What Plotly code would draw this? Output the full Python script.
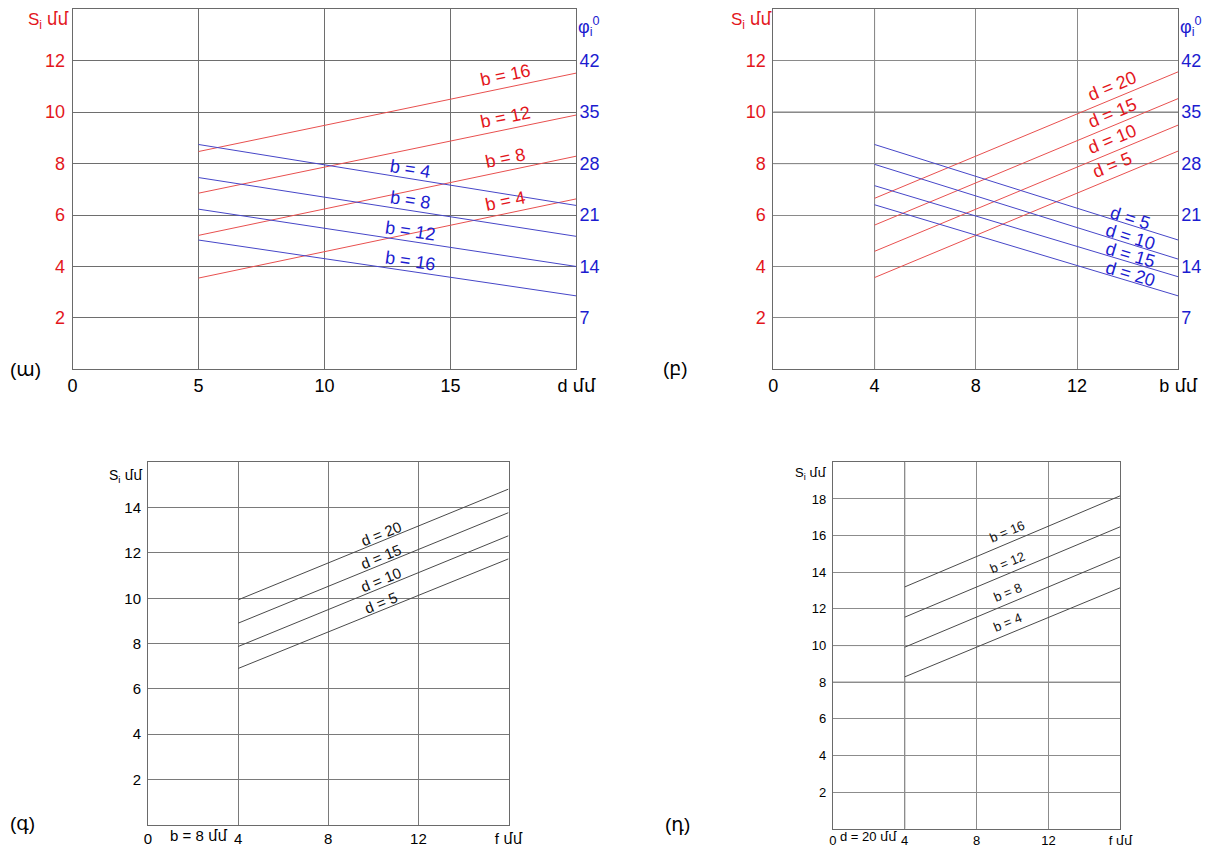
import math
import plotly.graph_objects as go

# ---------------- data ----------------
# Panel (ա): S_i (red, left axis) and φ_i (blue, right axis) vs d, for b values
a_d = [5, 20]
a_red_b = [16, 12, 8, 4]
a_red_S = [[8.47, 11.52], [6.85, 9.89], [5.21, 8.29], [3.55, 6.63]]
a_blue_b = [4, 8, 12, 16]
a_blue_phi = [[30.6, 22.3], [26.1, 18.1], [21.8, 14.0], [17.6, 10.0]]

# Panel (բ): S_i and φ_i vs b, for d values
b_b = [4, 16]
b_red_d = [20, 15, 10, 5]
b_red_S = [[6.65, 11.57], [5.61, 10.53], [4.59, 9.50], [3.57, 8.49]]
b_blue_d = [5, 10, 15, 20]
b_blue_phi = [[30.6, 17.6], [27.9, 15.0], [25.0, 12.6], [22.4, 10.0]]

# Panel (գ): S_i vs f, b = 8, for d values
c_f = [4, 16]
c_d = [20, 15, 10, 5]
c_S = [[9.93, 14.82], [8.90, 13.78], [7.87, 12.76], [6.90, 11.74]]

# Panel (դ): S_i vs f, d = 20, for b values
d_f = [4, 16]
d_b = [16, 12, 8, 4]
d_S = [[13.20, 18.18], [11.55, 16.49], [9.91, 14.85], [8.29, 13.16]]

# tick labels
a_xticks = [0, 5, 10, 15, 20]
a_xtext = ["0", "5", "10", "15", "d մմ"]
ab_yticks = [2, 4, 6, 8, 10, 12]
ab_phiticks = [7, 14, 21, 28, 35, 42]
b_xticks = [0, 4, 8, 12, 16]
b_xtext = ["0", "4", "8", "12", "b մմ"]
cd_xticks = [0, 4, 8, 12, 16]
cd_xtext = ["0", "4", "8", "12", "f մմ"]
c_yticks = [2, 4, 6, 8, 10, 12, 14]
d_yticks = [2, 4, 6, 8, 10, 12, 14, 16, 18]

# ---------------- styling / layout helpers ----------------
W, H = 1226, 848
FONT = "Liberation Sans, Arial, DejaVu Sans, sans-serif"
RED_T, RED_L = "#e3161c", "#e8504f"
BLUE_T, BLUE_L = "#1c1cd0", "#4646c8"
GRID = {"a": "#6e6e6e", "b": "#8a8a8a", "c": "#7a7a7a", "d": "#8c8c8c"}


def PX(px):
    return px / W


def PY(py):
    return 1 - py / H


# panel pixel boxes: left, right, top, bottom
boxes = {
    "a": (69, 583.3, 9.3, 370.7),
    "b": (784.3, 1197.7, 9.3, 370.7),
    "c": (146, 514, 464, 827.7),
    "d": (845, 1138.7, 464, 831.7),
}
ranges = {"a": ([0, 20], [0, 14]), "b": ([0, 16], [0, 14]),
          "c": ([0, 16], [0, 16]), "d": ([0, 16], [0, 20])}

fig = go.Figure()

# axis names per panel
ax = {"a": ("x", "y", "y2"), "b": ("x2", "y3", "y4"), "c": ("x3", "y5", None), "d": ("x4", "y6", None)}
lay = {}
tick_font_size = {"a": 18, "b": 18, "c": 15, "d": 13}
for key, (xa, ya, ya2) in ax.items():
    l, r, t, bt = boxes[key]
    xr, yr = ranges[key]
    xname = "xaxis" + xa[1:]
    yname = "yaxis" + ya[1:]
    fs = tick_font_size[key]
    common = dict(showgrid=True, gridcolor=GRID[key], gridwidth=1, zeroline=False,
                  showline=True, linecolor="#6a6a6a", linewidth=1, mirror=True,
                  ticks="", fixedrange=True)
    xd = dict(common)
    xd.update(domain=[PX(l), PX(r)], range=xr, anchor=ya,
              tickfont=dict(family=FONT, size=fs, color="black"), ticklabelstandoff=0)
    yd = dict(common)
    yd.update(domain=[PY(bt), PY(t)], range=yr, anchor=xa,
              tickfont=dict(family=FONT, size=fs, color=RED_T if key in "ab" else "black"),
              ticklabelstandoff=3)
    lay[xname] = xd
    lay[yname] = yd
    if ya2:
        lay["yaxis" + ya2[1:]] = dict(overlaying=ya, side="right", anchor=xa, range=[0, 49],
                                      tickvals=ab_phiticks, showgrid=False, zeroline=False,
                                      showline=False, ticks="", fixedrange=True,
                                      tickfont=dict(family=FONT, size=fs, color=BLUE_T),
                                      ticklabelstandoff=2)

lay["xaxis"].update(tickvals=a_xticks, ticktext=a_xtext)
lay["yaxis"].update(tickvals=ab_yticks)
lay["xaxis2"].update(tickvals=b_xticks, ticktext=b_xtext)
lay["yaxis3"].update(tickvals=ab_yticks)
lay["xaxis3"].update(tickvals=cd_xticks, ticktext=cd_xtext)
lay["yaxis5"].update(tickvals=c_yticks)
lay["xaxis4"].update(tickvals=cd_xticks, ticktext=cd_xtext)
lay["yaxis6"].update(tickvals=d_yticks)

# a few grid lines are drawn darker in the reference
shapes = []


def dark_v(xref, yref, xv, color):
    shapes.append(dict(type="line", xref=xref, yref=yref + " domain", x0=xv, x1=xv, y0=0, y1=1,
                       line=dict(color=color, width=1), layer="below"))


def dark_h(xref, yref, yv, color):
    shapes.append(dict(type="line", xref=xref + " domain", yref=yref, x0=0, x1=1, y0=yv, y1=yv,
                       line=dict(color=color, width=1), layer="below"))


dark_v("x2", "y3", b_xticks[1], "#333333")
dark_h("x2", "y3", ab_yticks[4], "#444444")
dark_h("x2", "y3", ab_yticks[3], "#444444")
dark_v("x4", "y6", cd_xticks[1], "#333333")
dark_h("x4", "y6", d_yticks[4], "#555555")
dark_h("x4", "y6", d_yticks[3], "#555555")

annotations = []


def angle_for(key, slope, yrange_override=None):
    l, r, t, bt = boxes[key]
    xr, yr = ranges[key]
    if yrange_override:
        yr = yrange_override
    sx = (r - l) / (xr[1] - xr[0])
    sy = (bt - t) / (yr[1] - yr[0])
    return -math.degrees(math.atan(slope * sy / sx))


def add_family(key, xs, ys_list, labels, prefix, xref, yref, color_l, color_t,
               label_x, yshift, fsize, yr_override=None):
    for vals, lab in zip(ys_list, labels):
        fig.add_trace(go.Scatter(x=xs, y=vals, mode="lines", xaxis=xref, yaxis=yref,
                                 line=dict(color=color_l, width=1), showlegend=False,
                                 hoverinfo="skip"))
        slope = (vals[1] - vals[0]) / (xs[1] - xs[0])
        yl = vals[0] + slope * (label_x - xs[0])
        annotations.append(dict(x=label_x, y=yl, xref=xref, yref=yref, text=f"{prefix} = {lab}",
                                showarrow=False, yshift=yshift,
                                textangle=angle_for(key, slope, yr_override),
                                font=dict(family=FONT, size=fsize, color=color_t)))


add_family("a", a_d, a_red_S, a_red_b, "b", "x", "y", RED_L, RED_T, 17.2, 13, 18)
add_family("a", a_d, a_blue_phi, a_blue_b, "b", "x", "y2", BLUE_L, BLUE_T, 13.4, 10, 18, [0, 49])
add_family("b", b_b, b_red_S, b_red_d, "d", "x2", "y3", RED_L, RED_T, 13.4, 13, 18)
add_family("b", b_b, b_blue_phi, b_blue_d, "d", "x2", "y4", BLUE_L, BLUE_T, 14.1, 7, 18, [0, 49])
add_family("c", c_f, c_S, c_d, "d", "x3", "y5", "#4a4a4a", "#111111", 10.35, 8, 15)
add_family("d", d_f, d_S, d_b, "b", "x4", "y6", "#4a4a4a", "#111111", 9.7, 12, 13)


def text_px(px, py, text, size, color="black"):
    annotations.append(dict(x=PX(px), y=PY(py), xref="paper", yref="paper", text=text,
                            showarrow=False, xanchor="center", yanchor="middle",
                            font=dict(family=FONT, size=size, color=color)))


# axis titles and panel labels
text_px(44, 21, "S<sub>i</sub> մմ", 17, RED_T)
text_px(596, 27, "φ<sub>i</sub><sup>0</sup>", 18, BLUE_T)
text_px(762, 21, "S<sub>i</sub> մմ", 17, RED_T)
text_px(1211, 27, "φ<sub>i</sub><sup>0</sup>", 18, BLUE_T)
text_px(124, 478, "S<sub>i</sub> մմ", 14)
text_px(823, 475, "S<sub>i</sub> մմ", 13)
text_px(198, 838, "b = 8 մմ", 15)
text_px(881, 839, "d = 20 մմ", 13)
text_px(21, 371, "(ա)", 19)
text_px(684, 370, "(բ)", 19)
text_px(18, 826, "(գ)", 19)
text_px(686, 827, "(դ)", 19)

fig.update_layout(width=W, height=H, autosize=False, margin=dict(l=0, r=0, t=0, b=0),
                  paper_bgcolor="white", plot_bgcolor="white", showlegend=False,
                  annotations=annotations, shapes=shapes, font=dict(family=FONT), **lay)

fig.write_html("out.html", config={"displayModeBar": False},
               post_script="document.body.style.margin='0';document.body.style.overflow='hidden';")
